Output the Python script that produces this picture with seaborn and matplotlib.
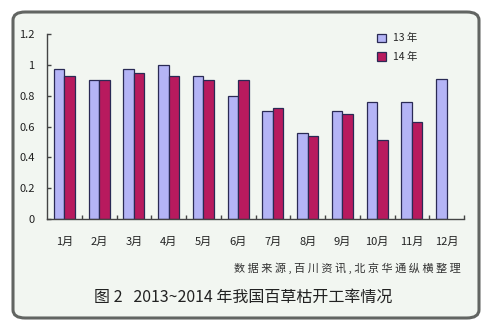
import matplotlib
matplotlib.use("Agg")
import matplotlib.pyplot as plt
from matplotlib.patches import FancyBboxPatch
from matplotlib.ticker import FixedLocator, FuncFormatter
import seaborn as sns
import pandas as pd

months = ["1月", "2月", "3月", "4月", "5月", "6月", "7月", "8月", "9月", "10月", "11月", "12月"]
rate_2013 = [0.97, 0.90, 0.97, 1.00, 0.93, 0.80, 0.70, 0.56, 0.70, 0.76, 0.76, 0.91]
rate_2014 = [0.93, 0.90, 0.95, 0.93, 0.90, 0.90, 0.72, 0.54, 0.68, 0.51, 0.63, None]
series_names = ["13 年", "14 年"]
palette = ["#b4b4f6", "#b81a5e"]

sns.set_theme(style="white")
plt.rcParams["font.family"] = ["Noto Sans CJK SC", "DejaVu Sans"]

df = pd.DataFrame({
    "month": months * 2,
    "rate": rate_2013 + rate_2014,
    "year": [series_names[0]] * len(months) + [series_names[1]] * len(months),
})

fig = plt.figure(figsize=(4.9, 3.28), dpi=100)
fig.patch.set_facecolor("white")

# rounded panel behind everything
panel = FancyBboxPatch((13 / 490, 1 - 318 / 328), 466 / 490, 306 / 328,
                       boxstyle="round,pad=0,rounding_size=0.025",
                       transform=fig.transFigure, facecolor="#f2f6f1",
                       edgecolor="#626562", linewidth=2.2, zorder=-5)
fig.patches.append(panel)

ax = fig.add_axes([47 / 490, 1 - 219 / 328, 417 / 490, 185 / 328])
ax.set_facecolor("none")
ax.set_zorder(2)

sns.barplot(data=df, x="month", y="rate", hue="year", order=months,
            hue_order=series_names, palette=palette, width=0.6,
            edgecolor="#2a2a55", linewidth=0.9, saturation=1, ax=ax)

ax.set_xlim(-0.5, 11.5)
ax.set_ylim(0, 1.2)
ax.set_xlabel("")
ax.set_ylabel("")

for side in ["top", "right"]:
    ax.spines[side].set_visible(False)
for side in ["left", "bottom"]:
    ax.spines[side].set_color("#444444")
    ax.spines[side].set_linewidth(1.0)

ax.set_yticks([0, 0.2, 0.4, 0.6, 0.8, 1.0, 1.2])
ax.yaxis.set_major_formatter(FuncFormatter(lambda v, p: f"{v:g}"))
ax.tick_params(axis="y", direction="in", length=3, width=1, color="#444444",
               labelsize=8, pad=9, labelcolor="#222222", left=True)
ax.xaxis.set_minor_locator(FixedLocator([i + 0.5 for i in range(12)]))
ax.tick_params(axis="x", which="major", length=0, labelsize=8, pad=13,
               labelcolor="#222222")
ax.tick_params(axis="x", which="minor", direction="in", length=3, width=1,
               color="#444444", bottom=True)

ax.legend(loc="upper left", bbox_to_anchor=(368 / 490, 1 - 24 / 328),
          bbox_transform=fig.transFigure, frameon=False, fontsize=7.5,
          handlelength=0.8, handleheight=0.9, handletextpad=0.7,
          labelspacing=0.8)

fig.text(461 / 490, 1 - 268 / 328, " ".join("数据来源,百川资讯,北京华通纵横整理"),
         ha="right", va="center", fontsize=8, color="#333333")
fig.text(243 / 490, 1 - 297 / 328, "图 2   2013~2014 年我国百草枯开工率情况",
         ha="center", va="center", fontsize=11.5, color="#222222")

fig.savefig("out.png", dpi=100, facecolor="white")
